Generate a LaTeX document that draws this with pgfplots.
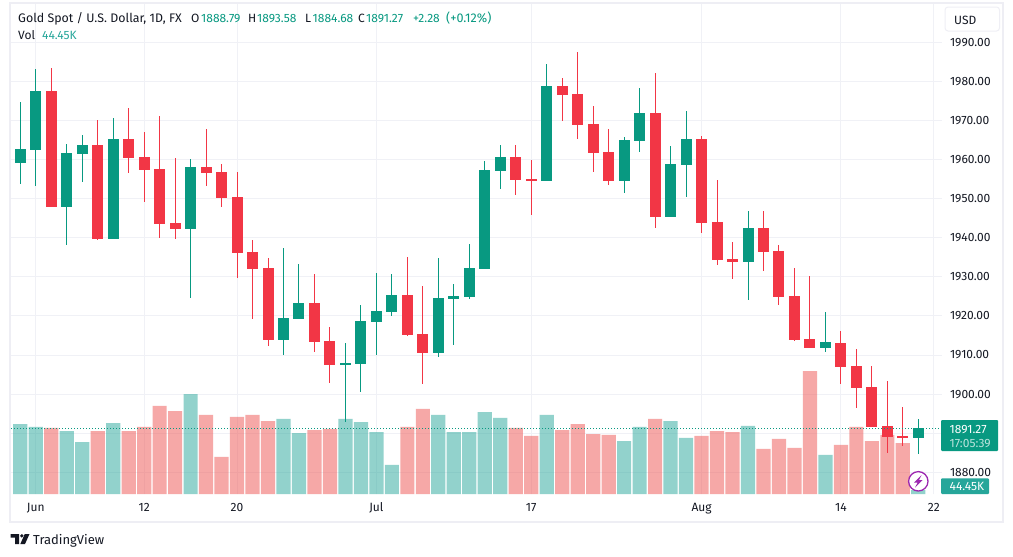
\documentclass[border=0pt]{standalone}
\usepackage{fontspec}
\setmainfont{Fira Sans}
\usepackage{pgfplots}
\usepackage{pgfplotstable}
\pgfplotsset{compat=1.18}

\definecolor{up}{HTML}{089981}
\definecolor{down}{HTML}{F23645}
\definecolor{volup}{HTML}{26A69A}
\definecolor{voldown}{HTML}{EF5350}
\definecolor{gridc}{HTML}{F0F1F6}
\definecolor{framec}{HTML}{EEEEF4}
\definecolor{txt}{HTML}{131722}
\definecolor{vio}{HTML}{9C27B0}

% daily candles, rising days
\pgfplotstableread{
x o h l c
0 1959.13 1974.74 1953.76 1962.71
1 1962.46 1983.18 1953.25 1977.55
3 1947.88 1963.99 1938.16 1961.69
4 1961.43 1966.29 1954.27 1963.74
6 1939.69 1970.64 1939.69 1965.27
11 1942.25 1960.16 1924.68 1958.11
17 1913.85 1937.39 1910.02 1919.48
18 1919.23 1933.30 1919.23 1923.32
21 1907.46 1913.09 1892.96 1907.97
22 1907.71 1922.81 1900.55 1918.71
23 1918.46 1930.99 1910.02 1921.27
24 1921.02 1930.74 1919.99 1925.36
27 1910.53 1934.83 1909.50 1924.60
28 1924.34 1928.18 1912.57 1925.11
29 1924.85 1938.41 1924.34 1932.27
30 1932.02 1959.64 1932.02 1957.34
31 1957.09 1963.74 1952.48 1960.67
34 1954.53 1984.46 1954.53 1978.83
39 1954.53 1965.78 1951.46 1965.02
40 1964.76 1978.32 1961.95 1971.92
42 1945.32 1963.48 1945.32 1958.88
43 1958.62 1972.43 1950.43 1965.27
47 1933.81 1946.85 1924.09 1942.50
52 1911.81 1921.02 1910.78 1913.34
58 1888.79 1893.58 1884.68 1891.27
}\upcandles

% falling days
\pgfplotstableread{
x o h l c
2 1977.55 1983.43 1947.88 1947.88
5 1963.74 1970.13 1939.44 1939.69
7 1965.27 1973.20 1956.57 1960.41
8 1960.67 1967.06 1949.16 1957.34
9 1957.60 1971.16 1939.95 1943.53
10 1943.78 1960.41 1939.69 1942.25
12 1958.11 1967.83 1953.25 1956.57
13 1956.83 1958.88 1947.88 1950.18
14 1950.43 1956.83 1929.71 1936.11
15 1936.36 1939.44 1919.23 1932.02
16 1932.27 1934.83 1912.32 1913.85
19 1923.32 1930.74 1910.78 1913.34
20 1913.60 1917.18 1902.85 1907.46
25 1925.36 1935.09 1914.88 1915.13
26 1915.39 1927.67 1902.60 1910.53
32 1960.67 1963.74 1950.95 1954.78
33 1955.04 1959.90 1945.83 1954.53
35 1978.83 1980.88 1969.88 1976.53
36 1976.78 1987.53 1965.27 1968.85
37 1969.11 1973.71 1956.83 1961.69
38 1961.95 1967.83 1953.50 1954.53
41 1971.92 1982.16 1942.50 1945.32
44 1965.27 1966.04 1941.23 1943.78
45 1944.04 1954.78 1933.04 1934.32
46 1934.57 1938.92 1929.46 1933.81
48 1942.50 1946.85 1931.50 1936.36
49 1936.62 1938.16 1922.81 1924.85
50 1925.11 1932.27 1913.60 1913.85
51 1914.11 1930.23 1911.81 1911.81
53 1913.09 1916.16 1902.60 1906.95
54 1907.20 1911.55 1896.46 1901.57
55 1901.83 1907.20 1891.60 1891.60
56 1891.85 1903.37 1884.95 1889.04
57 1889.30 1896.71 1886.74 1888.78
}\downcandles

% volume in thousands
\pgfplotstableread{
x v
0 777
1 744
3 699
4 577
6 788
11 1110
17 833
18 677
21 833
22 799
23 688
24 322
27 877
28 688
29 688
30 910
31 844
34 877
39 588
40 744
42 810
43 622
47 755
52 433
58 44.45
}\upvol

\pgfplotstableread{
x v
2 733
5 699
7 699
8 744
9 977
10 921
12 877
13 411
14 855
15 877
16 810
19 710
20 722
25 744
26 944
32 733
33 644
35 710
36 777
37 666
38 655
41 833
44 644
45 699
46 688
48 500
49 611
50 511
51 1365
53 544
54 744
55 588
56 655
57 566
}\downvol

\pgfplotsset{pane/.style={
  at={(11pt,-494pt)}, anchor=south west,
  scale only axis, width=931pt, height=490pt,
  xmin=-0.6, xmax=59.53,
}}

\begin{document}
\begin{tikzpicture}
\useasboundingbox (0,0) rectangle (1013pt,-557pt);
\fill[white] (0,0) rectangle (1013pt,-557pt);

% grid and tick labels
\begin{axis}[pane,
  ymin=1874.45, ymax=1999.8,
  axis line style={draw=none},
  major tick length=0pt,
  grid=major,
  grid style={gridc, line width=1pt},
  xtick={1,8,14,23,33,44,53,59},
  xticklabels={Jun,12,20,Jul,17,Aug,14,22},
  ytick={1880,1890,...,1990},
  yticklabels={1880.00,,1900.00,1910.00,1920.00,1930.00,1940.00,1950.00,1960.00,1970.00,1980.00,1990.00},
  yticklabel pos=right,
  tick label style={font=\fontsize{12}{14}\selectfont, text=txt, inner sep=0pt},
  xticklabel style={anchor=base, yshift=-17.8pt},
  yticklabel style={anchor=west, xshift=7.8pt},
]
\end{axis}

% volume pane
\begin{axis}[pane, hide axis, ymin=0, ymax=5439, ybar, bar width=14.2pt, bar shift=0pt]
\addplot[draw=none, fill=volup, fill opacity=0.5] table[x=x, y=v] {\upvol};
\addplot[draw=none, fill=voldown, fill opacity=0.5] table[x=x, y=v] {\downvol};
\end{axis}

% candles: thin error bars are the wicks, wide ones the bodies
\begin{axis}[pane, hide axis, ymin=1874.45, ymax=1999.8, clip=false]
\addplot[draw=none, error bars/.cd, y dir=both, y explicit, error mark=none,
  error bar style={up, line width=1pt}]
  table[x=x, y=c, y error plus expr=\thisrow{h}-\thisrow{c}, y error minus expr=\thisrow{c}-\thisrow{l}] {\upcandles};
\addplot[draw=none, error bars/.cd, y dir=both, y explicit, error mark=none,
  error bar style={down, line width=1pt}]
  table[x=x, y=c, y error plus expr=\thisrow{h}-\thisrow{c}, y error minus expr=\thisrow{c}-\thisrow{l}] {\downcandles};
\addplot[draw=none, error bars/.cd, y dir=plus, y explicit, error mark=none,
  error bar style={up, line width=11pt}]
  table[x=x, y=o, y error plus expr=\thisrow{c}-\thisrow{o}] {\upcandles};
\addplot[draw=none, error bars/.cd, y dir=plus, y explicit, error mark=none,
  error bar style={down, line width=11pt}]
  table[x=x, y=c, y error plus expr=\thisrow{o}-\thisrow{c}] {\downcandles};
% last price line
\addplot[up, line width=1pt, dotted] coordinates {(-0.6,1891.27) (59.53,1891.27)};
\end{axis}

\begin{scope}[x=1pt, y=-1pt, every node/.style={inner sep=0pt, font=\fontsize{12}{14}\selectfont}]
% outer frame
\draw[framec, line width=2pt] (10,3) rectangle (1003,521.7);

% legend lines
\node[anchor=base west, text=txt, font=\fontsize{12.4}{15}\selectfont] at (18,22) {Gold Spot / U.S. Dollar, 1D, FX};
\node[anchor=base west, text=txt] at (191,22) {O};
\node[anchor=base west, text=up] at (201,22) {1888.79};
\node[anchor=base west, text=txt] at (248,22) {H};
\node[anchor=base west, text=up] at (257,22) {1893.58};
\node[anchor=base west, text=txt] at (305,22) {L};
\node[anchor=base west, text=up] at (312.5,22) {1884.68};
\node[anchor=base west, text=txt] at (358,22) {C};
\node[anchor=base west, text=up] at (366,22) {1891.27};
\node[anchor=base west, text=up] at (413,22) {+2.28};
\node[anchor=base west, text=up, font=\fontsize{12.6}{15}\selectfont] at (446,22) {(+0.12\%)};
\node[anchor=base west, text=txt] at (18,39.3) {Vol};
\node[anchor=base west, text=volup] at (42,39.3) {44.45K};

% currency button
\draw[framec!70!gridc, line width=1pt, fill=white, rounded corners=3pt] (945,7) rectangle (999.5,31);
\node[anchor=base west, text=txt] at (954,24) {USD};

% price and volume tags
\fill[up, rounded corners=1pt] (941,420) rectangle (998,451);
\node[anchor=base west, text=white] at (949.5,433) {1891.27};
\node[anchor=base west, text=white, opacity=0.72] at (949.5,447) {17:05:39};
\fill[volup, rounded corners=1pt] (941,478.3) rectangle (989,494);
\node[anchor=base west, text=white] at (949.5,490.5) {44.45K};

% logo
\fill[txt] (10.5,534) -- (19,534) -- (19,544) -- (15,544) -- (15,537.6) -- (10.5,537.6) -- cycle;
\fill[txt] (21.8,535.8) circle (1.8);
\fill[txt] (24.8,534) -- (29.5,534) -- (25,544) -- (20.3,544) -- cycle;
\node[anchor=base west, text=txt, font=\fontsize{13}{15}\selectfont] at (33,544) {TradingView};

% lightning badge
\draw[vio, line width=1.3pt, fill=white] (918.3,481.3) circle (9.7);
\fill[vio] (921.6,475) -- (914,482.6) -- (917.6,482.6) -- (915,487.6) -- (922.6,480) -- (919,480) -- cycle;
\end{scope}
\end{tikzpicture}
\end{document}
